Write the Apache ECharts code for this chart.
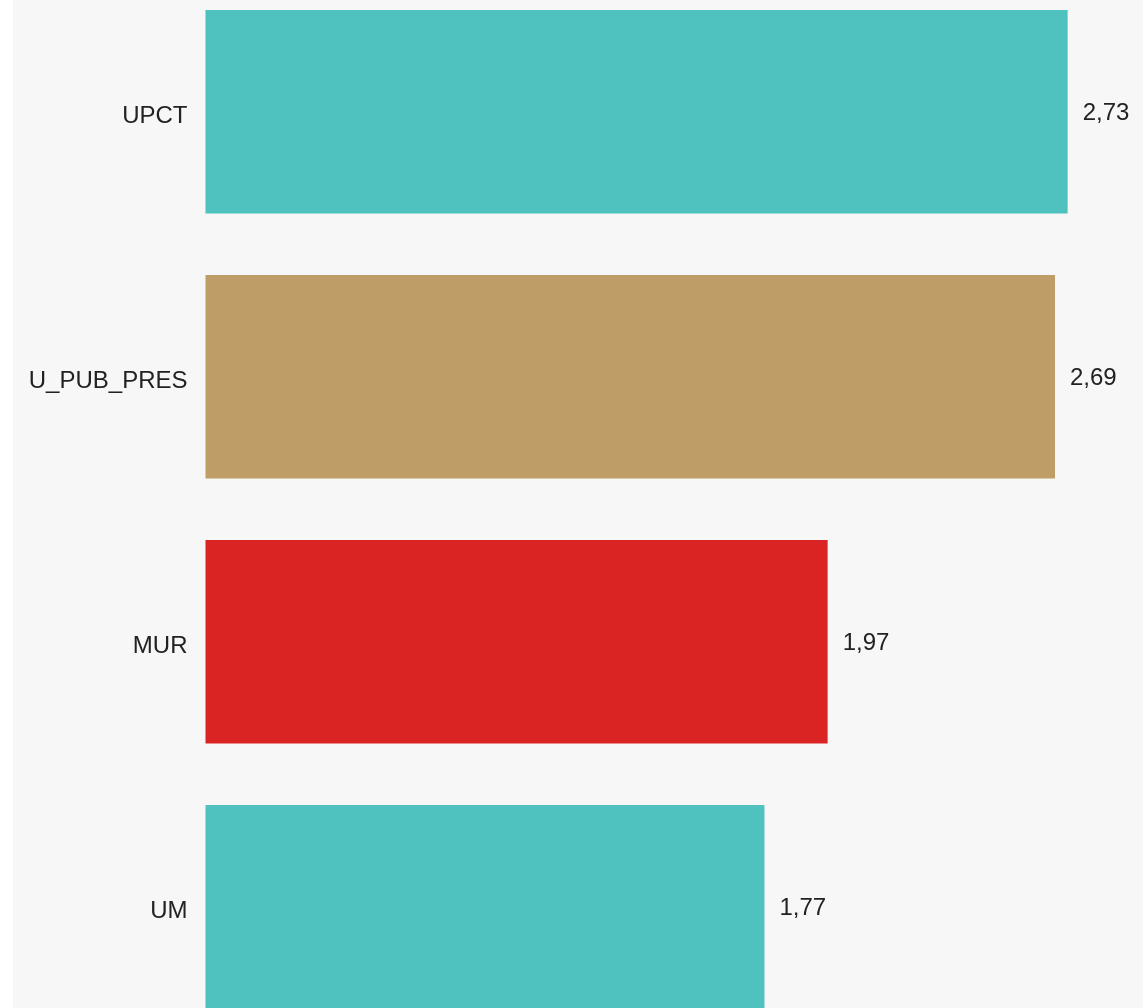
<!DOCTYPE html>
<html>
<head>
<meta charset="utf-8">
<script src="https://cdn.jsdelivr.net/npm/echarts@6/dist/echarts.min.js"></script>
<style>
html,body{margin:0;padding:0;background:#ffffff;overflow:hidden;width:1143px;height:1008px;}
#wrap{position:absolute;left:0;top:0;width:1143px;height:1008px;overflow:hidden;}
#chart{position:absolute;left:13px;top:-21px;width:1142px;height:1100px;background:#f7f7f7;}
</style>
</head>
<body>
<div id="wrap"><div id="chart"></div></div>
<script>
const categories = ["UPCT", "U_PUB_PRES", "MUR", "UM"];
const values = [2.73, 2.69, 1.97, 1.77];
const barColors = ["#4fc1be", "#be9d66", "#da2323", "#4fc1be"];

const chart = echarts.init(document.getElementById('chart'));
chart.setOption({
  backgroundColor: '#f7f7f7',
  animation: false,
  grid: { left: 192.5, top: 0.25, width: 947.4, height: 1060, containLabel: false },
  xAxis: {
    type: 'value', min: 0, max: 3,
    show: false
  },
  yAxis: {
    type: 'category',
    inverse: true,
    data: categories,
    axisLine: { show: false },
    axisTick: { show: false },
    axisLabel: {
      margin: 18,
      formatter: v => '{a|' + v + '}',
      rich: {
        a: {
          fontSize: 24,
          padding: [10, 0, 0, 0],
          fontFamily: 'Liberation Sans, Arial, sans-serif',
          color: '#222222'
        }
      }
    }
  },
  series: [{
    type: 'bar',
    barWidth: 203.5,
    data: values.map((v, i) => ({ value: v, itemStyle: { color: barColors[i] } })),
    label: {
      show: true,
      position: 'right',
      distance: 15,
      offset: [0, 2],
      fontSize: 24,
      fontFamily: 'Liberation Sans, Arial, sans-serif',
      color: '#222222',
      formatter: p => p.value.toFixed(2).replace('.', ',')
    }
  }]
});
</script>
</body>
</html>
